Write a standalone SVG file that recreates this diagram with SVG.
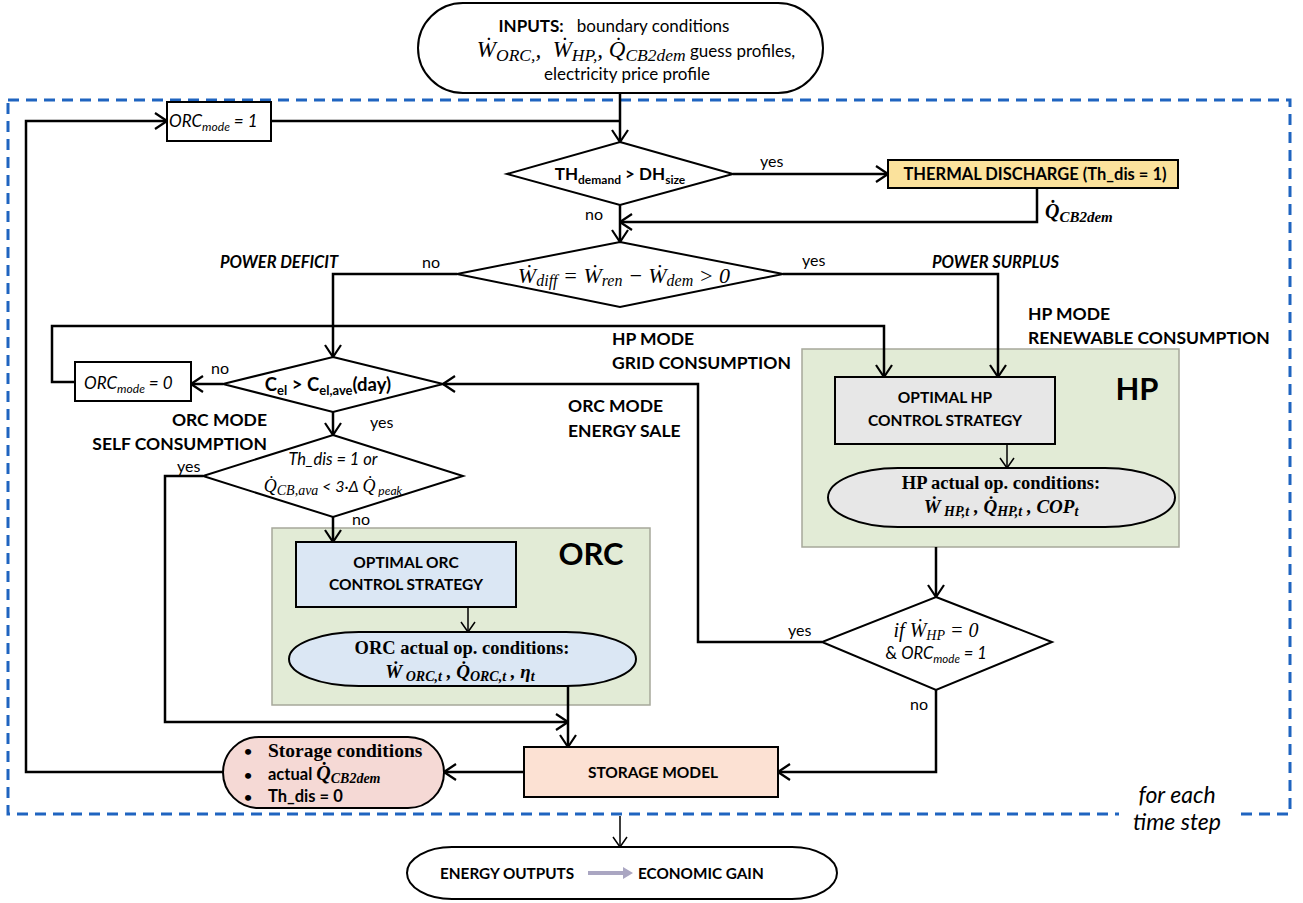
<svg xmlns="http://www.w3.org/2000/svg" width="1303" height="903" viewBox="0 0 1303 903">
<defs>
<style>
.s{font-family:Lato,"Liberation Sans",sans-serif;fill:#000}
.b{font-weight:bold}
.i{font-style:italic}
.m{font-family:"Liberation Serif","DejaVu Serif",serif;font-style:italic}
.c{font-family:"Liberation Serif","DejaVu Serif",serif;font-weight:bold}
.ln{fill:none;stroke:#000;stroke-width:2.5}
.lt{fill:none;stroke:#000;stroke-width:1.5}
.box{stroke:#000;stroke-width:2}
.grn{fill:#e2ebd6;stroke:#a6a89a;stroke-width:1.5}
</style>
<marker id="a" viewBox="0 0 14 18" refX="13" refY="9" markerWidth="14" markerHeight="18" orient="auto" markerUnits="userSpaceOnUse">
<path d="M1,1 L13,9 L1,17" fill="none" stroke="#000" stroke-width="2.2"/>
</marker>
<marker id="as" viewBox="0 0 12 16" refX="11" refY="8" markerWidth="12" markerHeight="16" orient="auto" markerUnits="userSpaceOnUse">
<path d="M1,1 L11,8 L1,15" fill="none" stroke="#000" stroke-width="1.5"/>
</marker>
</defs>
<rect width="1303" height="903" fill="#fff"/>

<!-- loop frame -->
<g id="frame">
<rect x="8" y="100" width="1282" height="714" fill="none" stroke="#1f64c0" stroke-width="3" stroke-dasharray="11,7"/>
<rect x="1119" y="776" width="117" height="64" fill="#fff"/>
<text class="s i" x="1177" y="803" font-size="23" text-anchor="middle">for each</text>
<text class="s i" x="1177" y="830" font-size="23" text-anchor="middle">time step</text>
</g>

<!-- containers -->
<g id="orc-group">
<rect class="grn" x="272" y="528" width="378" height="177"/>
<text class="s b" x="591" y="565" font-size="31" text-anchor="middle">ORC</text>
</g>
<g id="hp-group">
<rect class="grn" x="802" y="349" width="377" height="198"/>
<text class="s b" x="1137" y="400" font-size="31" text-anchor="middle">HP</text>
</g>

<!-- connectors -->
<g id="connectors">
<path class="ln" d="M620,93 V142" marker-end="url(#a)"/>
<path class="ln" d="M271,121 H620"/>
<path class="ln" d="M223,772 H26 V121 H167" marker-end="url(#a)"/>
<path class="ln" d="M733,174 H888" marker-end="url(#a)"/>
<path class="ln" d="M1037,188 V222 H620" marker-end="url(#a)"/>
<path class="ln" d="M620,205 V242" marker-end="url(#a)"/>
<path class="ln" d="M457,274 H333 V357" marker-end="url(#a)"/>
<path class="ln" d="M783,274 H998 V377" marker-end="url(#a)"/>
<path class="ln" d="M223,384 H191" marker-end="url(#a)"/>
<path class="ln" d="M75,382 H52 V326 H884 V377" marker-end="url(#a)"/>
<path class="ln" d="M333,412 V435" marker-end="url(#a)"/>
<path class="ln" d="M203,476 H165 V722 H568" marker-end="url(#a)"/>
<path class="ln" d="M333,517 V542" marker-end="url(#a)"/>
<path class="lt" d="M468,607 V632" marker-end="url(#as)"/>
<path class="ln" d="M568,686 V747" marker-end="url(#a)"/>
<path class="lt" d="M1007,444 V468" marker-end="url(#as)"/>
<path class="ln" d="M936,547 V597" marker-end="url(#a)"/>
<path class="ln" d="M822,642 H698 V384 H443" marker-end="url(#a)"/>
<path class="ln" d="M936,690 V772 H778" marker-end="url(#a)"/>
<path class="ln" d="M524,772 H444" marker-end="url(#a)"/>
<path class="lt" d="M620,816 V847" marker-end="url(#as)"/>
</g>

<!-- connector labels -->
<g id="labels">
<text class="s" x="760" y="167" font-size="16">yes</text>
<text class="s" x="585" y="220" font-size="16">no</text>
<text class="m b" x="1045" y="218" font-size="20">Q&#775;<tspan font-size="15" dy="4">CB2dem</tspan></text>
<text class="s" x="422" y="268" font-size="16">no</text>
<text class="s" x="802" y="266" font-size="16">yes</text>
<text class="s b i" x="220" y="268" font-size="16.5">POWER DEFICIT</text>
<text class="s b i" x="932" y="268" font-size="16.5">POWER SURPLUS</text>
<text class="s b" x="1028" y="320" font-size="17.5">HP MODE</text>
<text class="s b" x="1028" y="344" font-size="17.5">RENEWABLE CONSUMPTION</text>
<text class="s b" x="612" y="345" font-size="17.5">HP MODE</text>
<text class="s b" x="612" y="369" font-size="17.5">GRID CONSUMPTION</text>
<text class="s b" x="568" y="412" font-size="17.5">ORC MODE</text>
<text class="s b" x="568" y="437" font-size="17.5">ENERGY SALE</text>
<text class="s b" x="267" y="426" font-size="17.5" text-anchor="end">ORC MODE</text>
<text class="s b" x="267" y="450" font-size="17.5" text-anchor="end">SELF CONSUMPTION</text>
<text class="s" x="211" y="374" font-size="16">no</text>
<text class="s" x="370" y="428" font-size="16">yes</text>
<text class="s" x="177" y="472" font-size="16">yes</text>
<text class="s" x="352" y="525" font-size="16">no</text>
<text class="s" x="788" y="636" font-size="16">yes</text>
<text class="s" x="910" y="710" font-size="16">no</text>
</g>

<g id="inputs">
<rect class="box" x="418" y="3" width="405" height="90" rx="45" fill="#fff"/>
<text class="s" x="614" y="32" font-size="17" text-anchor="middle"><tspan class="b">INPUTS:</tspan>&#160;&#160; boundary conditions</text>
<text class="s" x="636" y="57" font-size="17" text-anchor="middle"><tspan class="m" font-size="23">W&#775;</tspan><tspan class="m" font-size="17.5" dy="4">ORC,</tspan><tspan class="m" font-size="23" dy="-4">,&#160; W&#775;</tspan><tspan class="m" font-size="17.5" dy="4">HP,</tspan><tspan class="m" font-size="23" dy="-4">, Q&#775;</tspan><tspan class="m" font-size="17.5" dy="4">CB2dem</tspan><tspan dy="-4"> guess profiles,</tspan></text>
<text class="s" x="627" y="80" font-size="17" text-anchor="middle">electricity price profile</text>
</g>

<g id="orc-mode-1">
<rect class="box" x="167" y="102" width="104" height="39" fill="#fff"/>
<text class="s i" x="169" y="127" font-size="17">ORC<tspan font-size="12" dy="4">mode</tspan><tspan dy="-4"> = 1</tspan></text>
</g>

<g id="d-thdemand">
<polygon class="box" points="620,142 733,174 620,205 507,174" fill="#fff"/>
<text class="s b" x="620" y="180" font-size="17" text-anchor="middle">TH<tspan font-size="12" dy="4">demand</tspan><tspan dy="-4"> &gt; DH</tspan><tspan font-size="12" dy="4">size</tspan></text>
</g>

<g id="thermal-discharge">
<rect class="box" x="888" y="160" width="290" height="28" fill="#fbe29c"/>
<text class="s b" x="1035" y="180" font-size="16.5" text-anchor="middle">THERMAL DISCHARGE (Th_dis = 1)</text>
</g>

<g id="d-wdiff">
<polygon class="box" points="620,242 783,274 620,307 457,274" fill="#fff"/>
<text class="m" x="624" y="283" font-size="22" text-anchor="middle">W&#775;<tspan font-size="16" dy="3">diff</tspan><tspan dy="-3"> = W&#775;</tspan><tspan font-size="16" dy="3">ren</tspan><tspan dy="-3"> − W&#775;</tspan><tspan font-size="16" dy="3">dem</tspan><tspan dy="-3"> &gt; 0</tspan></text>
</g>

<g id="orc-mode-0">
<rect class="box" x="75" y="362" width="116" height="39" fill="#fff"/>
<text class="s i" x="84" y="389" font-size="17">ORC<tspan font-size="12" dy="4">mode</tspan><tspan dy="-4"> = 0</tspan></text>
</g>

<g id="d-cel">
<polygon class="box" points="333,357 443,384 333,412 223,384" fill="#fff"/>
<text class="s b" x="328" y="391" font-size="18.5" text-anchor="middle">C<tspan font-size="13" dy="4">el</tspan><tspan dy="-4"> &gt; C</tspan><tspan font-size="13" dy="4">el,ave</tspan><tspan dy="-4">(day)</tspan></text>
</g>

<g id="d-thdis">
<polygon class="box" points="333,435 463,476 333,517 203,476" fill="#fff"/>
<text class="s i" x="333" y="465" font-size="16.5" text-anchor="middle">Th_dis = 1 or</text>
<text class="s i" x="333" y="492" font-size="16" text-anchor="middle"><tspan class="m" font-size="18">Q&#775;</tspan><tspan class="m" font-size="14" dy="3">CB,ava</tspan><tspan dy="-3">  &lt; 3·Δ </tspan><tspan class="m" font-size="18">Q&#775;</tspan><tspan font-size="12" dy="3"> peak</tspan></text>
</g>

<g id="orc-strategy">
<rect class="box" x="296" y="542" width="220" height="65" fill="#dbe7f4"/>
<text class="s b" x="406" y="568" font-size="15.5" text-anchor="middle">OPTIMAL ORC</text>
<text class="s b" x="406" y="590" font-size="15.5" text-anchor="middle">CONTROL STRATEGY</text>
</g>

<g id="orc-conditions">
<rect class="box" x="289" y="632" width="347" height="54" rx="70" ry="27" fill="#dbe7f4"/>
<text class="c" x="462" y="654" font-size="18.5" text-anchor="middle">ORC actual op. conditions:</text>
<text class="c i" x="460" y="678" font-size="19" text-anchor="middle">W&#775;<tspan font-size="14" dy="3"> ORC,t</tspan><tspan dy="-3"> , Q&#775;</tspan><tspan font-size="14" dy="3">ORC,t</tspan><tspan dy="-3"> , η</tspan><tspan font-size="14" dy="3">t</tspan></text>
</g>

<g id="hp-strategy">
<rect class="box" x="835" y="377" width="220" height="67" fill="#e7e7e7"/>
<text class="s b" x="945" y="403" font-size="15.5" text-anchor="middle">OPTIMAL HP</text>
<text class="s b" x="945" y="426" font-size="15.5" text-anchor="middle">CONTROL STRATEGY</text>
</g>

<g id="hp-conditions">
<rect class="box" x="828" y="468" width="347" height="59" rx="70" ry="29.5" fill="#e7e7e7"/>
<text class="c" x="1001" y="489" font-size="18.5" text-anchor="middle">HP actual op. conditions:</text>
<text class="c i" x="1001" y="513" font-size="19" text-anchor="middle">W&#775;<tspan font-size="14" dy="3"> HP,t</tspan><tspan dy="-3"> , Q&#775;</tspan><tspan font-size="14" dy="3">HP,t</tspan><tspan dy="-3"> , COP</tspan><tspan font-size="14" dy="3">t</tspan></text>
</g>

<g id="d-whp">
<polygon class="box" points="936,597 1052,642 936,690 822,642" fill="#fff"/>
<text class="m" x="936" y="637" font-size="20" text-anchor="middle">if W&#775;<tspan font-size="14" dy="3">HP</tspan><tspan dy="-3"> = 0</tspan></text>
<text class="s" x="936" y="659" font-size="16.5" text-anchor="middle">&amp; <tspan class="i">ORC<tspan font-size="11.5" dy="4">mode</tspan><tspan dy="-4"> = 1</tspan></tspan></text>
</g>

<g id="storage-model">
<rect class="box" x="524" y="747" width="254" height="50" fill="#fce1d3"/>
<text class="s b" x="653" y="778" font-size="15.5" text-anchor="middle">STORAGE MODEL</text>
</g>

<g id="storage-conditions">
<rect class="box" x="223" y="737" width="221" height="71" rx="36" fill="#f5d9d5"/>
<text class="s b" x="244" y="756" font-size="14">•</text>
<text class="s b" x="244" y="780" font-size="14">•</text>
<text class="s b" x="244" y="802" font-size="14">•</text>
<text class="c" x="268" y="757" font-size="19.5">Storage conditions</text>
<text class="s b" x="268" y="780" font-size="16.5">actual <tspan class="m" font-size="20">Q&#775;</tspan><tspan class="m" font-size="14" dy="3">CB2dem</tspan></text>
<text class="s b" x="268" y="802" font-size="16.5">Th_dis = 0</text>
</g>

<g id="outputs">
<rect class="box" x="407" y="847" width="430" height="52" rx="45" ry="26" fill="#fff"/>
<text class="s b" x="440" y="879" font-size="15.3">ENERGY OUTPUTS</text>
<path d="M588,871 H623 V867 L633,873 L623,879 V875 H588 Z" fill="#aaa6c2"/>
<text class="s b" x="638" y="879" font-size="15.3">ECONOMIC GAIN</text>
</g>
</svg>
